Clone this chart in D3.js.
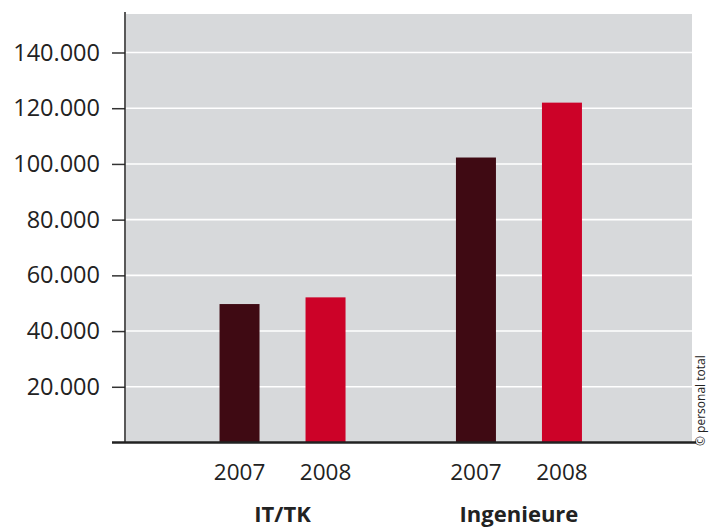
<!DOCTYPE html>
<html>
<head>
<meta charset="utf-8">
<script src="https://cdn.jsdelivr.net/npm/d3@7"></script>
<style>
  body { margin: 0; background: #fff; }
  text { font-family: "Open Sans", "Noto Sans", sans-serif; fill: #222; }
</style>
</head>
<body>
<div id="chart"></div>
<script>
// data
const categories = ["IT/TK", "Ingenieure"];
const years = ["2007", "2008"];
const values2007 = [49700, 102300];
const values2008 = [52100, 122000];
const yTicks = [20000, 40000, 60000, 80000, 100000, 120000, 140000];

const colors = {"2007": "#3f0a13", "2008": "#cc0228"};

const width = 709, height = 529;
const plot = {left: 126, right: 692, top: 14, bottom: 442.5};

const svg = d3.select("#chart").append("svg")
    .attr("width", width)
    .attr("height", height);

const data = categories.map((c, i) => ({
  cat: c,
  vals: [{year: "2007", value: values2007[i]}, {year: "2008", value: values2008[i]}]
}));

let x0 = d3.scaleBand()
    .domain(categories)
    .range([plot.left, plot.right])
    .paddingInner(0.466)
    .paddingOuter(0.43)
    .align(0.46);

let x1 = d3.scaleBand()
    .domain(years)
    .range([0, 126])
    .paddingInner(0.535)
    .paddingOuter(0);

let y = d3.scaleLinear()
    .domain([0, 140000])
    .range([plot.bottom, 52.5]);

const fmt = d3.formatLocale({decimal: ",", thousands: ".", grouping: [3], currency: ["", "€"]}).format(",d");

// background
svg.append("rect")
    .attr("x", plot.left)
    .attr("y", plot.top)
    .attr("width", plot.right - plot.left)
    .attr("height", plot.bottom - plot.top)
    .attr("fill", "#d7d9db");

// gridlines
svg.append("g")
    .selectAll("line")
    .data(yTicks)
    .enter().append("line")
    .attr("x1", plot.left)
    .attr("x2", plot.right)
    .attr("y1", d => y(d))
    .attr("y2", d => y(d))
    .attr("stroke", "#fff")
    .attr("stroke-width", 1.6);

// bars
const groups = svg.append("g")
    .selectAll("g")
    .data(data)
    .enter().append("g")
    .attr("transform", d => "translate(" + x0(d.cat) + ",0)");

groups.selectAll("rect")
    .data(d => d.vals)
    .enter().append("rect")
    .attr("x", d => x1(d.year))
    .attr("y", d => y(d.value))
    .attr("width", x1.bandwidth())
    .attr("height", d => y(0) - y(d.value))
    .attr("fill", d => colors[d.year]);

// y axis
const yAxis = svg.append("g")
    .attr("transform", "translate(" + (plot.left - 1) + ",0)")
    .call(d3.axisLeft(y).tickValues(yTicks).tickFormat(fmt).tickSize(13).tickPadding(12));
yAxis.select(".domain").remove();
yAxis.selectAll(".tick line").attr("stroke", "#333").attr("stroke-width", 1.5);
yAxis.selectAll(".tick text")
    .style("font-family", "'Open Sans', 'Noto Sans', sans-serif")
    .style("font-size", "23.5px")
    .attr("fill", "#222");

svg.append("line")
    .attr("x1", plot.left - 1).attr("x2", plot.left - 1)
    .attr("y1", 12).attr("y2", plot.bottom)
    .attr("stroke", "#222").attr("stroke-width", 1.5);

// baseline
svg.append("line")
    .attr("x1", 112).attr("x2", 696)
    .attr("y1", plot.bottom).attr("y2", plot.bottom)
    .attr("stroke", "#222").attr("stroke-width", 2.6);

// year labels
groups.selectAll("text.year")
    .data(d => d.vals)
    .enter().append("text")
    .attr("class", "year")
    .attr("x", d => x1(d.year) + x1.bandwidth() / 2)
    .attr("y", 480)
    .attr("text-anchor", "middle")
    .style("font-size", "22.5px")
    .text(d => d.year);

// category labels
groups.append("text")
    .attr("x", 63)
    .attr("y", 522)
    .attr("text-anchor", "middle")
    .style("font-size", "22px")
    .style("font-weight", "bold")
    .text(d => d.cat);

// copyright
svg.append("text")
    .attr("transform", "translate(705,446) rotate(-90)")
    .style("font-size", "12px")
    .attr("fill", "#444")
    .text("© personal total");
</script>
</body>
</html>
